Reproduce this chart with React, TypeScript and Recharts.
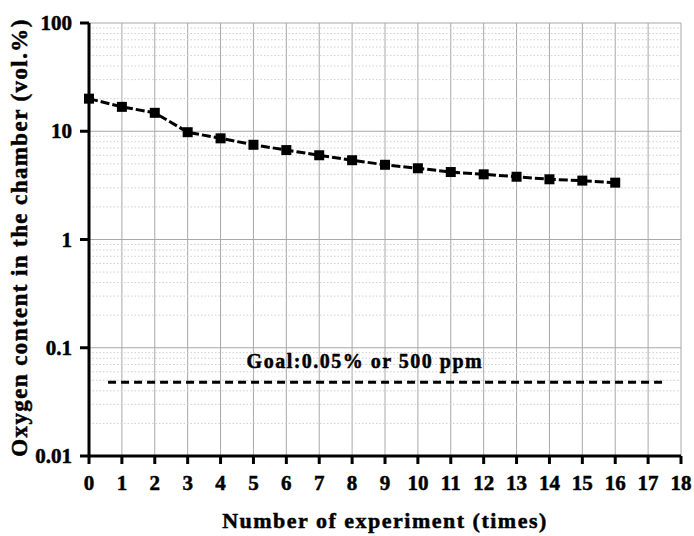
import React from 'react';
import {
  ComposedChart,
  Line,
  XAxis,
  YAxis,
  CartesianGrid,
  ReferenceDot,
} from 'recharts';

const experiments = [0, 1, 2, 3, 4, 5, 6, 7, 8, 9, 10, 11, 12, 13, 14, 15, 16];
const oxygen = [20.0, 16.8, 14.8, 9.8, 8.6, 7.5, 6.7, 6.0, 5.4, 4.9, 4.55, 4.2, 4.0, 3.8, 3.6, 3.5, 3.35];

const goalX = [0.58, 17.57];
const goalY = [0.048, 0.048];
const goalLabel = 'Goal:0.05% or 500 ppm';
const goalLabelPos = { x: 8.39, y: 0.075 };

const xTicks = [0, 1, 2, 3, 4, 5, 6, 7, 8, 9, 10, 11, 12, 13, 14, 15, 16, 17, 18];
const yMajor = [0.01, 0.1, 1, 10, 100];
const yMinorMultipliers = [2, 3, 4, 5, 6, 7, 8, 9];
const decades = [0.01, 0.1, 1, 10];
const yMinor: number[] = [];
decades.forEach((d) => yMinorMultipliers.forEach((m) => yMinor.push(+(d * m).toPrecision(3))));

const yTitle = 'Oxygen content in the chamber (vol.%)';
const xTitle = 'Number of experiment (times)';

const data = experiments.map((x, i) => ({ x, o2: oxygen[i] }));
const goalData = goalX.map((x, i) => ({ x, goal: goalY[i] }));

const FONT = 'Liberation Serif';
const TEXT_STROKE = 0.5;

const SquareDot = (props: any) => {
  const { cx, cy } = props;
  if (cx == null || cy == null) return <g />;
  return <rect x={cx - 5} y={cy - 5} width={10} height={10} fill="#000" />;
};

const XTick = (props: any) => {
  const { x, y, payload } = props;
  return (
    <text
      x={x}
      y={y}
      dy={15}
      textAnchor="middle"
      fontFamily={FONT}
      fontWeight="bold"
      fontSize={21}
      fill="#000"
      stroke="#000"
      strokeWidth={TEXT_STROKE}
    >
      {String(payload.value)}
    </text>
  );
};

const YTick = (props: any) => {
  const { x, y, payload } = props;
  return (
    <text
      x={x}
      y={y}
      dy={7}
      textAnchor="end"
      fontFamily={FONT}
      fontWeight="bold"
      fontSize={21}
      fill="#000"
      stroke="#000"
      strokeWidth={TEXT_STROKE}
    >
      {String(payload.value)}
    </text>
  );
};

const YTitle = (props: any) => {
  const vb = props.viewBox || { x: 0, y: 0, width: 0, height: 0 };
  const cx = vb.x + 27;
  const cy = vb.y + vb.height / 2 - 2;
  return (
    <text
      x={cx}
      y={cy}
      transform={`rotate(-90, ${cx}, ${cy})`}
      textAnchor="middle"
      fontFamily={FONT}
      fontWeight="bold"
      fontSize={23}
      letterSpacing={1.4}
      fill="#000"
      stroke="#000"
      strokeWidth={TEXT_STROKE}
    >
      {yTitle}
    </text>
  );
};

const XTitle = (props: any) => {
  const vb = props.viewBox || { x: 0, y: 0, width: 0, height: 0 };
  const cx = vb.x + vb.width / 2;
  const cy = vb.y + 72;
  return (
    <text
      x={cx}
      y={cy}
      textAnchor="middle"
      fontFamily={FONT}
      fontWeight="bold"
      fontSize={22}
      letterSpacing={1.5}
      fill="#000"
      stroke="#000"
      strokeWidth={TEXT_STROKE}
    >
      {xTitle}
    </text>
  );
};

export default function App() {
  return (
    <div style={{ position: 'absolute', left: 0, top: 0, background: '#fff' }}>
      <ComposedChart
        width={694}
        height={536}
        data={data}
        margin={{ top: 23, right: 13, left: 0, bottom: 0 }}
      >
        <CartesianGrid
          xAxisId="x"
          yAxisId="y"
          stroke="#a8a8a8"
          strokeWidth={1}
        />
        <CartesianGrid
          xAxisId="x"
          yAxisId="y"
          vertical={false}
          horizontalValues={yMinor}
          stroke="#cfcfcf"
          strokeWidth={1}
          strokeDasharray="1.5 2"
        />
        <XAxis
          xAxisId="x"
          dataKey="x"
          type="number"
          domain={[0, 18]}
          ticks={xTicks}
          interval={0}
          height={80}
          axisLine={{ stroke: '#000', strokeWidth: 3 }}
          tickLine={{ stroke: '#000', strokeWidth: 3 }}
          tickSize={8}
          tickMargin={11}
          tick={<XTick />}
          label={<XTitle />}
        />
        <XAxis
          xAxisId="xt"
          orientation="top"
          dataKey="x"
          type="number"
          domain={[0, 18]}
          ticks={xTicks}
          interval={0}
          height={0}
          mirror
          axisLine={{ stroke: '#000', strokeWidth: 3 }}
          tickLine={{ stroke: '#000', strokeWidth: 3 }}
          tickSize={9}
          tickFormatter={() => ''}
        />
        <YAxis
          yAxisId="ym"
          scale="log"
          type="number"
          domain={[0.01, 100]}
          ticks={yMinor}
          interval={0}
          allowDataOverflow
          width={0}
          mirror
          axisLine={false}
          tickLine={{ stroke: '#000', strokeWidth: 2.5 }}
          tickSize={5}
          tickFormatter={() => ''}
        />
        <YAxis
          yAxisId="y"
          scale="log"
          type="number"
          domain={[0.01, 100]}
          ticks={yMajor}
          interval={0}
          allowDataOverflow
          width={89}
          axisLine={{ stroke: '#000', strokeWidth: 3 }}
          tickLine={{ stroke: '#000', strokeWidth: 3 }}
          tickSize={9}
          tickMargin={8}
          tick={<YTick />}
          label={<YTitle />}
        />
        <YAxis
          yAxisId="yr"
          orientation="right"
          scale="log"
          type="number"
          domain={[0.01, 100]}
          ticks={yMajor}
          interval={0}
          allowDataOverflow
          width={0}
          mirror
          axisLine={{ stroke: '#000', strokeWidth: 3 }}
          tickLine={{ stroke: '#000', strokeWidth: 3 }}
          tickSize={9}
          tickFormatter={() => ''}
        />
        <Line
          xAxisId="x"
          yAxisId="y"
          data={goalData}
          dataKey="goal"
          stroke="#000"
          strokeWidth={3}
          strokeDasharray="8 5"
          dot={false}
          activeDot={false}
          isAnimationActive={false}
        />
        <Line
          xAxisId="x"
          yAxisId="y"
          dataKey="o2"
          stroke="#000"
          strokeWidth={3}
          strokeDasharray="9 3"
          dot={<SquareDot />}
          activeDot={false}
          isAnimationActive={false}
        />
        <ReferenceDot
          xAxisId="x"
          yAxisId="y"
          x={goalLabelPos.x}
          y={goalLabelPos.y}
          r={0}
          fill="none"
          stroke="none"
          label={{
            value: goalLabel,
            position: 'center',
            fontFamily: FONT,
            fontWeight: 'bold',
            fontSize: 20,
            letterSpacing: 1.5,
            fill: '#000',
            stroke: '#000',
            strokeWidth: TEXT_STROKE,
          }}
        />
      </ComposedChart>
    </div>
  );
}
